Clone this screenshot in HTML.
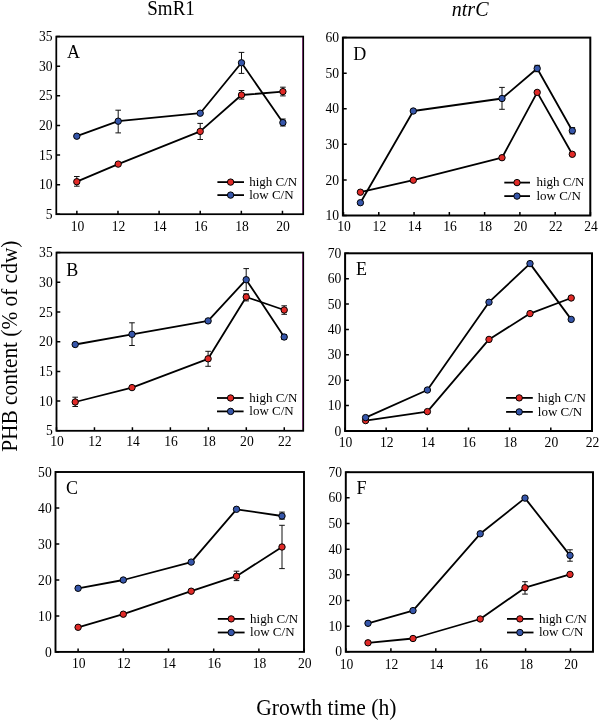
<!DOCTYPE html>
<html><head><meta charset="utf-8"><style>
html,body{margin:0;padding:0;background:#fff;width:600px;height:720px;overflow:hidden}
svg{display:block}
text{font-family:"Liberation Serif",serif;fill:#000}
.t{font-size:13.6px}
.l{font-size:13px}
.p{font-size:18px}
.ax{font-size:22.5px}
.ti{font-size:20px}
</style></head><body>
<div style="will-change:transform;width:600px;height:720px"><svg width="600" height="720" viewBox="0 0 600 720">
<rect width="600" height="720" fill="#fff"/>
<text class="ti" transform="translate(147.3 15) scale(0.95 1)">SmR1</text>
<text class="ti" x="451.8" y="16" font-style="italic">ntrC</text>
<text class="ax" transform="translate(16.8 451.8) rotate(-90) scale(0.95 1)">PHB content (% of cdw)</text>
<text class="ax" transform="translate(256.2 714.7) scale(0.96 1)">Growth time (h)</text>
<path d="M56.3 214.3H60.1M56.3 184.67H60.1M56.3 155.03H60.1M56.3 125.4H60.1M56.3 95.76H60.1M56.3 66.13H60.1M56.3 36.49H60.1M76.86 214.2V210.7M117.98 214.2V210.7M159.1 214.2V210.7M200.22 214.2V210.7M241.34 214.2V210.7M282.46 214.2V210.7" stroke="#000" stroke-width="1.5" fill="none"/>
<rect x="56.3" y="36.6" width="246.9" height="177.6" fill="none" stroke="#000" stroke-width="1.75"/>
<path d="M302.5 37.8V211.7" stroke="#6e3168" stroke-width="1"/>
<text class="t" x="52.5" y="218.9" text-anchor="end">5</text>
<text class="t" x="52.5" y="189.27" text-anchor="end">10</text>
<text class="t" x="52.5" y="159.63" text-anchor="end">15</text>
<text class="t" x="52.5" y="130" text-anchor="end">20</text>
<text class="t" x="52.5" y="100.36" text-anchor="end">25</text>
<text class="t" x="52.5" y="70.73" text-anchor="end">30</text>
<text class="t" x="52.5" y="41.09" text-anchor="end">35</text>
<text class="t" x="77.46" y="230.9" text-anchor="middle">10</text>
<text class="t" x="118.58" y="230.9" text-anchor="middle">12</text>
<text class="t" x="159.7" y="230.9" text-anchor="middle">14</text>
<text class="t" x="200.82" y="230.9" text-anchor="middle">16</text>
<text class="t" x="241.94" y="230.9" text-anchor="middle">18</text>
<text class="t" x="283.06" y="230.9" text-anchor="middle">20</text>
<polyline points="76.8,181.7 118.2,164.1 200.2,131.4 241.5,95 282.9,91.6" fill="none" stroke="#000" stroke-width="1.8" stroke-linejoin="round"/>
<path d="M76.8 176.5V186.2M74 176.5H79.6M74 186.2H79.6M200.2 123.4V139.5M197.4 123.4H203M197.4 139.5H203M241.5 90.5V99.1M238.7 90.5H244.3M238.7 99.1H244.3M282.9 87.2V95.9M280.1 87.2H285.7M280.1 95.9H285.7" stroke="#111" stroke-width="1" fill="none"/>
<circle cx="76.8" cy="181.7" r="3.2" fill="#e12a27" stroke="#000" stroke-width="1"/>
<circle cx="118.2" cy="164.1" r="3.2" fill="#e12a27" stroke="#000" stroke-width="1"/>
<circle cx="200.2" cy="131.4" r="3.2" fill="#e12a27" stroke="#000" stroke-width="1"/>
<circle cx="241.5" cy="95" r="3.2" fill="#e12a27" stroke="#000" stroke-width="1"/>
<circle cx="282.9" cy="91.6" r="3.2" fill="#e12a27" stroke="#000" stroke-width="1"/>
<polyline points="76.8,136.2 118.2,121.2 200.2,113.2 241.5,62.8 282.9,122.6" fill="none" stroke="#000" stroke-width="1.8" stroke-linejoin="round"/>
<path d="M118.2 110.2V132.9M115.4 110.2H121M115.4 132.9H121M241.5 52.4V73.4M238.7 52.4H244.3M238.7 73.4H244.3M282.9 119V126M280.1 119H285.7M280.1 126H285.7" stroke="#111" stroke-width="1" fill="none"/>
<circle cx="76.8" cy="136.2" r="3.2" fill="#3656aa" stroke="#000" stroke-width="1"/>
<circle cx="118.2" cy="121.2" r="3.2" fill="#3656aa" stroke="#000" stroke-width="1"/>
<circle cx="200.2" cy="113.2" r="3.2" fill="#3656aa" stroke="#000" stroke-width="1"/>
<circle cx="241.5" cy="62.8" r="3.2" fill="#3656aa" stroke="#000" stroke-width="1"/>
<circle cx="282.9" cy="122.6" r="3.2" fill="#3656aa" stroke="#000" stroke-width="1"/>
<path d="M217.4 182.1H244" stroke="#000" stroke-width="1.8"/>
<circle cx="230.6" cy="182.1" r="3.2" fill="#e12a27" stroke="#000" stroke-width="1"/>
<text class="l" x="249.2" y="185.7">high C/N</text>
<path d="M217.4 195.1H244" stroke="#000" stroke-width="1.8"/>
<circle cx="230.6" cy="195.1" r="3.2" fill="#3656aa" stroke="#000" stroke-width="1"/>
<text class="l" x="249.2" y="198.7">low C/N</text>
<text class="p" x="67" y="58.2">A</text>
<path d="M56.5 430.8H60.3M56.5 401.1H60.3M56.5 371.4H60.3M56.5 341.7H60.3M56.5 312H60.3M56.5 282.3H60.3M56.5 252.6H60.3M56.5 430.8V427.3M94.46 430.8V427.3M132.42 430.8V427.3M170.38 430.8V427.3M208.34 430.8V427.3M246.3 430.8V427.3M284.26 430.8V427.3" stroke="#000" stroke-width="1.5" fill="none"/>
<rect x="56.5" y="252.6" width="246.7" height="178.2" fill="none" stroke="#000" stroke-width="1.8"/>
<path d="M302.5 253.8V428.3" stroke="#6e3168" stroke-width="1"/>
<text class="t" x="52.7" y="435.4" text-anchor="end">5</text>
<text class="t" x="52.7" y="405.7" text-anchor="end">10</text>
<text class="t" x="52.7" y="376" text-anchor="end">15</text>
<text class="t" x="52.7" y="346.3" text-anchor="end">20</text>
<text class="t" x="52.7" y="316.6" text-anchor="end">25</text>
<text class="t" x="52.7" y="286.9" text-anchor="end">30</text>
<text class="t" x="52.7" y="257.2" text-anchor="end">35</text>
<text class="t" x="57.1" y="446.4" text-anchor="middle">10</text>
<text class="t" x="95.06" y="446.4" text-anchor="middle">12</text>
<text class="t" x="133.02" y="446.4" text-anchor="middle">14</text>
<text class="t" x="170.98" y="446.4" text-anchor="middle">16</text>
<text class="t" x="208.94" y="446.4" text-anchor="middle">18</text>
<text class="t" x="246.9" y="446.4" text-anchor="middle">20</text>
<text class="t" x="284.86" y="446.4" text-anchor="middle">22</text>
<polyline points="75.2,402 132,387.6 208.1,358.8 246.2,297 284.2,310" fill="none" stroke="#000" stroke-width="1.8" stroke-linejoin="round"/>
<path d="M75.2 397.2V406.5M72.4 397.2H78M72.4 406.5H78M208.1 351.3V366.3M205.3 351.3H210.9M205.3 366.3H210.9M246.2 293.9V300.9M243.4 293.9H249M243.4 300.9H249M284.2 305.8V314.3M281.4 305.8H287M281.4 314.3H287" stroke="#111" stroke-width="1" fill="none"/>
<circle cx="75.2" cy="402" r="3.2" fill="#e12a27" stroke="#000" stroke-width="1"/>
<circle cx="132" cy="387.6" r="3.2" fill="#e12a27" stroke="#000" stroke-width="1"/>
<circle cx="208.1" cy="358.8" r="3.2" fill="#e12a27" stroke="#000" stroke-width="1"/>
<circle cx="246.2" cy="297" r="3.2" fill="#e12a27" stroke="#000" stroke-width="1"/>
<circle cx="284.2" cy="310" r="3.2" fill="#e12a27" stroke="#000" stroke-width="1"/>
<polyline points="75.2,344.5 132,334.3 208.1,320.9 246.2,279.7 284.2,337" fill="none" stroke="#000" stroke-width="1.8" stroke-linejoin="round"/>
<path d="M132 322.8V345.5M129.2 322.8H134.8M129.2 345.5H134.8M246.2 268.6V290.6M243.4 268.6H249M243.4 290.6H249M284.2 334.5V339.5M281.4 334.5H287M281.4 339.5H287" stroke="#111" stroke-width="1" fill="none"/>
<circle cx="75.2" cy="344.5" r="3.2" fill="#3656aa" stroke="#000" stroke-width="1"/>
<circle cx="132" cy="334.3" r="3.2" fill="#3656aa" stroke="#000" stroke-width="1"/>
<circle cx="208.1" cy="320.9" r="3.2" fill="#3656aa" stroke="#000" stroke-width="1"/>
<circle cx="246.2" cy="279.7" r="3.2" fill="#3656aa" stroke="#000" stroke-width="1"/>
<circle cx="284.2" cy="337" r="3.2" fill="#3656aa" stroke="#000" stroke-width="1"/>
<path d="M217 398H243.6" stroke="#000" stroke-width="1.8"/>
<circle cx="230.6" cy="398" r="3.2" fill="#e12a27" stroke="#000" stroke-width="1"/>
<text class="l" x="249.3" y="401.6">high C/N</text>
<path d="M217 411.4H243.6" stroke="#000" stroke-width="1.8"/>
<circle cx="230.6" cy="411.4" r="3.2" fill="#3656aa" stroke="#000" stroke-width="1"/>
<text class="l" x="249.3" y="415">low C/N</text>
<text class="p" x="66.3" y="276">B</text>
<path d="M55.5 651.9H59.3M55.5 615.92H59.3M55.5 579.94H59.3M55.5 543.96H59.3M55.5 507.98H59.3M55.5 472H59.3M78.1 651.9V648.4M123.3 651.9V648.4M168.5 651.9V648.4M213.7 651.9V648.4M258.9 651.9V648.4M304.1 651.9V648.4" stroke="#000" stroke-width="1.5" fill="none"/>
<rect x="55.5" y="472" width="248.5" height="179.9" fill="none" stroke="#000" stroke-width="1.9"/>
<text class="t" x="51.7" y="656.5" text-anchor="end">0</text>
<text class="t" x="51.7" y="620.52" text-anchor="end">10</text>
<text class="t" x="51.7" y="584.54" text-anchor="end">20</text>
<text class="t" x="51.7" y="548.56" text-anchor="end">30</text>
<text class="t" x="51.7" y="512.58" text-anchor="end">40</text>
<text class="t" x="51.7" y="476.6" text-anchor="end">50</text>
<text class="t" x="78.7" y="668.3" text-anchor="middle">10</text>
<text class="t" x="123.9" y="668.3" text-anchor="middle">12</text>
<text class="t" x="169.1" y="668.3" text-anchor="middle">14</text>
<text class="t" x="214.3" y="668.3" text-anchor="middle">16</text>
<text class="t" x="259.5" y="668.3" text-anchor="middle">18</text>
<text class="t" x="304.7" y="668.3" text-anchor="middle">20</text>
<polyline points="78.1,627.3 123.3,614.2 191.2,591.2 236.5,576.2 282,547" fill="none" stroke="#000" stroke-width="1.8" stroke-linejoin="round"/>
<path d="M236.5 571.2V580.6M233.7 571.2H239.3M233.7 580.6H239.3M282 525.3V568.6M279.2 525.3H284.8M279.2 568.6H284.8" stroke="#111" stroke-width="1" fill="none"/>
<circle cx="78.1" cy="627.3" r="3.2" fill="#e12a27" stroke="#000" stroke-width="1"/>
<circle cx="123.3" cy="614.2" r="3.2" fill="#e12a27" stroke="#000" stroke-width="1"/>
<circle cx="191.2" cy="591.2" r="3.2" fill="#e12a27" stroke="#000" stroke-width="1"/>
<circle cx="236.5" cy="576.2" r="3.2" fill="#e12a27" stroke="#000" stroke-width="1"/>
<circle cx="282" cy="547" r="3.2" fill="#e12a27" stroke="#000" stroke-width="1"/>
<polyline points="78.1,588.3 123.3,580 191.2,562.1 236.5,509.3 282,516" fill="none" stroke="#000" stroke-width="1.8" stroke-linejoin="round"/>
<path d="M282 512.1V519.2M279.2 512.1H284.8M279.2 519.2H284.8" stroke="#111" stroke-width="1" fill="none"/>
<circle cx="78.1" cy="588.3" r="3.2" fill="#3656aa" stroke="#000" stroke-width="1"/>
<circle cx="123.3" cy="580" r="3.2" fill="#3656aa" stroke="#000" stroke-width="1"/>
<circle cx="191.2" cy="562.1" r="3.2" fill="#3656aa" stroke="#000" stroke-width="1"/>
<circle cx="236.5" cy="509.3" r="3.2" fill="#3656aa" stroke="#000" stroke-width="1"/>
<circle cx="282" cy="516" r="3.2" fill="#3656aa" stroke="#000" stroke-width="1"/>
<path d="M217.8 618.9H244.6" stroke="#000" stroke-width="1.8"/>
<circle cx="231.2" cy="618.9" r="3.2" fill="#e12a27" stroke="#000" stroke-width="1"/>
<text class="l" x="250.1" y="622.5">high C/N</text>
<path d="M217.8 632.5H244.6" stroke="#000" stroke-width="1.8"/>
<circle cx="231.2" cy="632.5" r="3.2" fill="#3656aa" stroke="#000" stroke-width="1"/>
<text class="l" x="250.1" y="636.1">low C/N</text>
<text class="p" x="66" y="494.4">C</text>
<path d="M342.9 215.5H346.7M342.9 179.92H346.7M342.9 144.34H346.7M342.9 108.76H346.7M342.9 73.18H346.7M342.9 37.6H346.7M343.5 215.5V212M378.78 215.5V212M414.06 215.5V212M449.34 215.5V212M484.62 215.5V212M519.9 215.5V212M555.18 215.5V212M590.46 215.5V212" stroke="#000" stroke-width="1.5" fill="none"/>
<rect x="342.9" y="37.6" width="247.4" height="177.9" fill="none" stroke="#000" stroke-width="2"/>
<text class="t" x="339.1" y="220.1" text-anchor="end">10</text>
<text class="t" x="339.1" y="184.52" text-anchor="end">20</text>
<text class="t" x="339.1" y="148.94" text-anchor="end">30</text>
<text class="t" x="339.1" y="113.36" text-anchor="end">40</text>
<text class="t" x="339.1" y="77.78" text-anchor="end">50</text>
<text class="t" x="339.1" y="42.2" text-anchor="end">60</text>
<text class="t" x="344.1" y="231" text-anchor="middle">10</text>
<text class="t" x="379.38" y="231" text-anchor="middle">12</text>
<text class="t" x="414.66" y="231" text-anchor="middle">14</text>
<text class="t" x="449.94" y="231" text-anchor="middle">16</text>
<text class="t" x="485.22" y="231" text-anchor="middle">18</text>
<text class="t" x="520.5" y="231" text-anchor="middle">20</text>
<text class="t" x="555.78" y="231" text-anchor="middle">22</text>
<text class="t" x="591.06" y="231" text-anchor="middle">24</text>
<polyline points="360.4,192.2 413.3,180.2 502,157.7 537.2,92.4 572.3,154.3" fill="none" stroke="#000" stroke-width="1.8" stroke-linejoin="round"/>
<circle cx="360.4" cy="192.2" r="3.2" fill="#e12a27" stroke="#000" stroke-width="1"/>
<circle cx="413.3" cy="180.2" r="3.2" fill="#e12a27" stroke="#000" stroke-width="1"/>
<circle cx="502" cy="157.7" r="3.2" fill="#e12a27" stroke="#000" stroke-width="1"/>
<circle cx="537.2" cy="92.4" r="3.2" fill="#e12a27" stroke="#000" stroke-width="1"/>
<circle cx="572.3" cy="154.3" r="3.2" fill="#e12a27" stroke="#000" stroke-width="1"/>
<polyline points="360.4,202.7 413.3,111 502,98.5 537.2,68.5 572.3,130.7" fill="none" stroke="#000" stroke-width="1.8" stroke-linejoin="round"/>
<path d="M502 87.4V109.3M499.2 87.4H504.8M499.2 109.3H504.8M537.2 65.3V71.7M534.4 65.3H540M534.4 71.7H540M572.3 127.6V133.9M569.5 127.6H575.1M569.5 133.9H575.1" stroke="#111" stroke-width="1" fill="none"/>
<circle cx="360.4" cy="202.7" r="3.2" fill="#3656aa" stroke="#000" stroke-width="1"/>
<circle cx="413.3" cy="111" r="3.2" fill="#3656aa" stroke="#000" stroke-width="1"/>
<circle cx="502" cy="98.5" r="3.2" fill="#3656aa" stroke="#000" stroke-width="1"/>
<circle cx="537.2" cy="68.5" r="3.2" fill="#3656aa" stroke="#000" stroke-width="1"/>
<circle cx="572.3" cy="130.7" r="3.2" fill="#3656aa" stroke="#000" stroke-width="1"/>
<path d="M504.3 182.6H530" stroke="#000" stroke-width="1.8"/>
<circle cx="517" cy="182.6" r="3.2" fill="#e12a27" stroke="#000" stroke-width="1"/>
<text class="l" x="536.4" y="186.2">high C/N</text>
<path d="M504.3 196.1H530" stroke="#000" stroke-width="1.8"/>
<circle cx="517" cy="196.1" r="3.2" fill="#3656aa" stroke="#000" stroke-width="1"/>
<text class="l" x="536.4" y="199.7">low C/N</text>
<text class="p" x="353.3" y="60">D</text>
<path d="M345.1 431H348.9M345.1 405.61H348.9M345.1 380.23H348.9M345.1 354.84H348.9M345.1 329.46H348.9M345.1 304.07H348.9M345.1 278.68H348.9M345.1 253.3H348.9M345 431V427.5M386.16 431V427.5M427.32 431V427.5M468.48 431V427.5M509.64 431V427.5M550.8 431V427.5M591.96 431V427.5" stroke="#000" stroke-width="1.5" fill="none"/>
<rect x="345.1" y="253.3" width="246.9" height="177.7" fill="none" stroke="#000" stroke-width="2"/>
<text class="t" x="341.3" y="435.6" text-anchor="end">0</text>
<text class="t" x="341.3" y="410.21" text-anchor="end">10</text>
<text class="t" x="341.3" y="384.83" text-anchor="end">20</text>
<text class="t" x="341.3" y="359.44" text-anchor="end">30</text>
<text class="t" x="341.3" y="334.06" text-anchor="end">40</text>
<text class="t" x="341.3" y="308.67" text-anchor="end">50</text>
<text class="t" x="341.3" y="283.28" text-anchor="end">60</text>
<text class="t" x="341.3" y="257.9" text-anchor="end">70</text>
<text class="t" x="345.6" y="446.9" text-anchor="middle">10</text>
<text class="t" x="386.76" y="446.9" text-anchor="middle">12</text>
<text class="t" x="427.92" y="446.9" text-anchor="middle">14</text>
<text class="t" x="469.08" y="446.9" text-anchor="middle">16</text>
<text class="t" x="510.24" y="446.9" text-anchor="middle">18</text>
<text class="t" x="551.4" y="446.9" text-anchor="middle">20</text>
<text class="t" x="592.56" y="446.9" text-anchor="middle">22</text>
<polyline points="365.6,420.6 427.4,411.6 489,339.4 530,313.6 571.2,298" fill="none" stroke="#000" stroke-width="1.8" stroke-linejoin="round"/>
<circle cx="365.6" cy="420.6" r="3.2" fill="#e12a27" stroke="#000" stroke-width="1"/>
<circle cx="427.4" cy="411.6" r="3.2" fill="#e12a27" stroke="#000" stroke-width="1"/>
<circle cx="489" cy="339.4" r="3.2" fill="#e12a27" stroke="#000" stroke-width="1"/>
<circle cx="530" cy="313.6" r="3.2" fill="#e12a27" stroke="#000" stroke-width="1"/>
<circle cx="571.2" cy="298" r="3.2" fill="#e12a27" stroke="#000" stroke-width="1"/>
<polyline points="365.6,417.6 427.4,390 489,302.2 530,263.6 571.2,319.4" fill="none" stroke="#000" stroke-width="1.8" stroke-linejoin="round"/>
<circle cx="365.6" cy="417.6" r="3.2" fill="#3656aa" stroke="#000" stroke-width="1"/>
<circle cx="427.4" cy="390" r="3.2" fill="#3656aa" stroke="#000" stroke-width="1"/>
<circle cx="489" cy="302.2" r="3.2" fill="#3656aa" stroke="#000" stroke-width="1"/>
<circle cx="530" cy="263.6" r="3.2" fill="#3656aa" stroke="#000" stroke-width="1"/>
<circle cx="571.2" cy="319.4" r="3.2" fill="#3656aa" stroke="#000" stroke-width="1"/>
<path d="M506.1 397.9H532.8" stroke="#000" stroke-width="1.8"/>
<circle cx="519.2" cy="397.9" r="3.2" fill="#e12a27" stroke="#000" stroke-width="1"/>
<text class="l" x="537.8" y="401.5">high C/N</text>
<path d="M506.1 411.9H532.8" stroke="#000" stroke-width="1.8"/>
<circle cx="519.2" cy="411.9" r="3.2" fill="#3656aa" stroke="#000" stroke-width="1"/>
<text class="l" x="537.8" y="415.5">low C/N</text>
<text class="p" x="356" y="275">E</text>
<path d="M345.8 651.8H349.6M345.8 626.14H349.6M345.8 600.48H349.6M345.8 574.82H349.6M345.8 549.16H349.6M345.8 523.5H349.6M345.8 497.84H349.6M345.8 472.18H349.6M346 651.8V648.3M390.9 651.8V648.3M435.8 651.8V648.3M480.7 651.8V648.3M525.6 651.8V648.3M570.5 651.8V648.3" stroke="#000" stroke-width="1.5" fill="none"/>
<rect x="345.8" y="472.2" width="247.2" height="179.6" fill="none" stroke="#000" stroke-width="1.95"/>
<text class="t" x="342" y="656.4" text-anchor="end">0</text>
<text class="t" x="342" y="630.74" text-anchor="end">10</text>
<text class="t" x="342" y="605.08" text-anchor="end">20</text>
<text class="t" x="342" y="579.42" text-anchor="end">30</text>
<text class="t" x="342" y="553.76" text-anchor="end">40</text>
<text class="t" x="342" y="528.1" text-anchor="end">50</text>
<text class="t" x="342" y="502.44" text-anchor="end">60</text>
<text class="t" x="342" y="476.78" text-anchor="end">70</text>
<text class="t" x="346.6" y="668.5" text-anchor="middle">10</text>
<text class="t" x="391.5" y="668.5" text-anchor="middle">12</text>
<text class="t" x="436.4" y="668.5" text-anchor="middle">14</text>
<text class="t" x="481.3" y="668.5" text-anchor="middle">16</text>
<text class="t" x="526.2" y="668.5" text-anchor="middle">18</text>
<text class="t" x="571.1" y="668.5" text-anchor="middle">20</text>
<polyline points="368,642.8 413,638.5 480.2,619 525,587.7 570,574.4" fill="none" stroke="#000" stroke-width="1.8" stroke-linejoin="round"/>
<path d="M525 581.7V594.1M522.2 581.7H527.8M522.2 594.1H527.8" stroke="#111" stroke-width="1" fill="none"/>
<circle cx="368" cy="642.8" r="3.2" fill="#e12a27" stroke="#000" stroke-width="1"/>
<circle cx="413" cy="638.5" r="3.2" fill="#e12a27" stroke="#000" stroke-width="1"/>
<circle cx="480.2" cy="619" r="3.2" fill="#e12a27" stroke="#000" stroke-width="1"/>
<circle cx="525" cy="587.7" r="3.2" fill="#e12a27" stroke="#000" stroke-width="1"/>
<circle cx="570" cy="574.4" r="3.2" fill="#e12a27" stroke="#000" stroke-width="1"/>
<polyline points="368,623.3 413,610.6 480.2,533.8 525,498.1 570,555.4" fill="none" stroke="#000" stroke-width="1.8" stroke-linejoin="round"/>
<path d="M570 549.8V561.2M567.2 549.8H572.8M567.2 561.2H572.8" stroke="#111" stroke-width="1" fill="none"/>
<circle cx="368" cy="623.3" r="3.2" fill="#3656aa" stroke="#000" stroke-width="1"/>
<circle cx="413" cy="610.6" r="3.2" fill="#3656aa" stroke="#000" stroke-width="1"/>
<circle cx="480.2" cy="533.8" r="3.2" fill="#3656aa" stroke="#000" stroke-width="1"/>
<circle cx="525" cy="498.1" r="3.2" fill="#3656aa" stroke="#000" stroke-width="1"/>
<circle cx="570" cy="555.4" r="3.2" fill="#3656aa" stroke="#000" stroke-width="1"/>
<path d="M507 618.9H533.5" stroke="#000" stroke-width="1.8"/>
<circle cx="519.9" cy="618.9" r="3.2" fill="#e12a27" stroke="#000" stroke-width="1"/>
<text class="l" x="538.9" y="622.5">high C/N</text>
<path d="M507 632.5H533.5" stroke="#000" stroke-width="1.8"/>
<circle cx="519.9" cy="632.5" r="3.2" fill="#3656aa" stroke="#000" stroke-width="1"/>
<text class="l" x="538.9" y="636.1">low C/N</text>
<text class="p" x="356.6" y="494.4">F</text>
</svg></div>
</body></html>
